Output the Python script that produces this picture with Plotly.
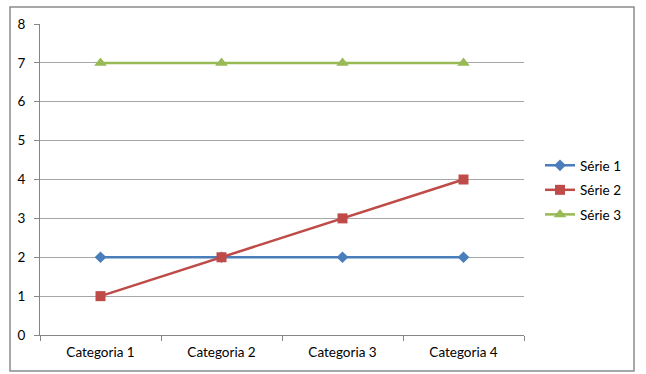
import plotly.graph_objects as go

categories = ["Categoria 1", "Categoria 2", "Categoria 3", "Categoria 4"]
serie1 = [2, 2, 2, 2]
serie2 = [1, 2, 3, 4]
serie3 = [7, 7, 7, 7]
series_names = ["Série 1", "Série 2", "Série 3"]
y_ticks = [0, 1, 2, 3, 4, 5, 6, 7, 8]

colors = ["#4A7EBB", "#BE4B48", "#98B954"]
symbols = ["diamond", "square", "triangle-up"]
sizes = [9, 10, 11]

fig = go.Figure()
for i, (name, vals) in enumerate(zip(series_names, [serie1, serie2, serie3])):
    fig.add_trace(go.Scatter(
        x=categories, y=vals, name=name, mode="lines+markers",
        line=dict(color=colors[i], width=2.5),
        marker=dict(symbol=symbols[i], size=sizes[i], color=colors[i]),
        legendgroup=f"g{i}",
    ))

W, H = 646, 374
L, R, T, B = 40, 122, 24, 39
pw, ph = W - L - R, H - T - B

def px(x):
    return (x - L) / pw

def py(y):
    return (H - B - y) / ph

fig.add_shape(type="rect", xref="paper", yref="paper",
              x0=px(10), x1=px(634), y0=py(371), y1=py(7),
              line=dict(color="#8C8C8C", width=1.5), layer="below")

fig.update_layout(
    width=W, height=H,
    margin=dict(l=L, r=R, t=T, b=B),
    paper_bgcolor="white", plot_bgcolor="white",
    font=dict(family="Lato, Open Sans, sans-serif", size=13.5, color="#000000"),
    showlegend=True,
    legend=dict(x=px(540), y=py(190), xanchor="left", yanchor="middle",
                traceorder="grouped", tracegroupgap=4,
                font=dict(size=13.5), itemwidth=30, bgcolor="rgba(0,0,0,0)"),
    xaxis=dict(type="category", range=[-0.5, 3.5], tickson="boundaries",
               ticks="outside", ticklen=5, tickcolor="#868686",
               ticklabelstandoff=5,
               showline=True, linecolor="#868686", linewidth=1,
               showgrid=False, zeroline=False, fixedrange=True),
    yaxis=dict(range=[0, 8], tickvals=y_ticks, ticks="outside", ticklen=5,
               tickcolor="#868686", ticklabelstandoff=6,
               showline=True, linecolor="#868686",
               linewidth=1, showgrid=True, gridcolor="#A6A6A6", gridwidth=1,
               zeroline=False, fixedrange=True),
)

fig.write_html("out.html", config={"displayModeBar": False},
               post_script="document.body.style.margin='0';document.body.style.overflow='hidden';")
